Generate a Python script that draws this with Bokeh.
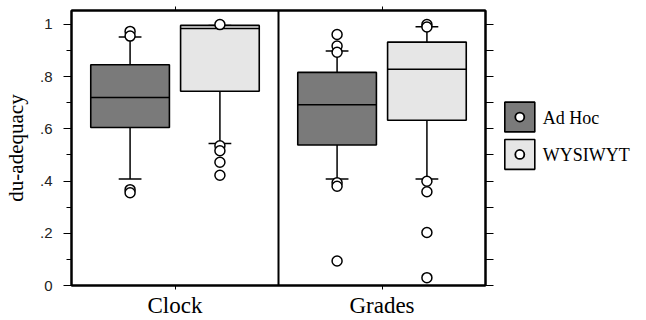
from bokeh.plotting import figure
from bokeh.layouts import row
from bokeh.models import (ColumnDataSource, FactorRange, Range1d, CategoricalAxis, LinearAxis,
                          FixedTicker, Span)
from bokeh.core.properties import value
from bokeh.transform import dodge
from bokeh.embed import file_html
from bokeh.resources import INLINE

# ---------------- data ----------------
categories = ["Clock", "Grades"]
groups = ["Ad Hoc", "WYSIWYT"]

adhoc_lower = [0.408, 0.408]
adhoc_q1 = [0.605, 0.538]
adhoc_median = [0.720, 0.692]
adhoc_q3 = [0.845, 0.816]
adhoc_upper = [0.952, 0.898]
adhoc_outliers = [[0.973, 0.955, 0.367, 0.355],
                  [0.961, 0.917, 0.893, 0.393, 0.380, 0.094]]

wys_lower = [0.544, 0.408]
wys_q1 = [0.744, 0.633]
wys_median = [0.984, 0.828]
wys_q3 = [0.996, 0.932]
wys_upper = [0.996, 0.991]
wys_outliers = [[0.999, 0.535, 0.516, 0.472, 0.422],
                [0.999, 0.990, 0.399, 0.359, 0.203, 0.030]]

y_major = [0.0, 0.2, 0.4, 0.6, 0.8, 1.0]
y_major_labels = ["0", ".2", ".4", ".6", ".8", "1"]
y_minor = [0.1, 0.3, 0.5, 0.7, 0.9]
y_right = [0.0, 0.1, 0.2, 0.3, 0.4, 0.5, 0.6, 0.7, 0.8, 0.9, 1.0]
y_label = "du-adequacy"

# ---------------- styling ----------------
SERIF = "Liberation Serif"
SANS = "Liberation Sans"
colors = {"Ad Hoc": "#7a7a7a", "WYSIWYT": "#e6e6e6"}
offsets = {"Ad Hoc": -0.217, "WYSIWYT": 0.217}
BOX_W = 0.38
CAP_W = 0.11
H = 320
TOP_PAD = 10
BOTTOM_PAD = 33

p = figure(width=495, height=H, title=None,
           x_range=FactorRange(*categories, range_padding=0),
           y_range=Range1d(0, 1.053),
           x_axis_type=None, y_axis_type=None,
           output_backend="svg", toolbar_location=None,
           min_border_left=69, min_border_right=10, min_border_top=TOP_PAD,
           min_border_bottom=BOTTOM_PAD)
p.outline_line_color = "black"
p.outline_line_width = 2
p.background_fill_color = "white"
p.border_fill_color = "white"

left = LinearAxis(ticker=FixedTicker(ticks=y_major, minor_ticks=y_minor),
                  major_label_overrides={v: s for v, s in zip(y_major, y_major_labels)},
                  axis_label=y_label)
left.major_tick_out = 8
left.major_tick_in = 0
left.minor_tick_out = 5
left.minor_tick_in = 0
left.major_label_standoff = 11
left.major_label_text_font = SANS
left.major_label_text_font_size = "15px"
left.major_label_text_color = "#222222"
left.axis_label_text_font = SERIF
left.axis_label_text_font_style = "normal"
left.axis_label_text_font_size = "21px"
left.axis_label_text_color = "black"
left.axis_label_standoff = 9
left.axis_line_width = 2
p.add_layout(left, "left")

right = LinearAxis(ticker=FixedTicker(ticks=y_right))
right.major_tick_out = 8
right.major_tick_in = 0
right.minor_tick_out = 0
right.minor_tick_in = 0
right.major_label_text_font_size = "0px"
right.major_label_text_color = None
right.major_label_standoff = 0
right.axis_line_width = 2
p.add_layout(right, "right")

bottom = CategoricalAxis()
bottom.major_tick_out = 4
bottom.major_tick_in = 0
bottom.major_label_standoff = 3
bottom.major_label_text_font = SERIF
bottom.major_label_text_font_size = "23px"
bottom.major_label_text_color = "black"
bottom.axis_line_width = 2
p.add_layout(bottom, "below")

top = CategoricalAxis()
top.major_tick_out = 4
top.major_tick_in = 0
top.major_label_text_font_size = "0px"
top.major_label_text_color = None
top.major_label_standoff = 0
top.axis_line_width = 2
p.add_layout(top, "above")

for i in range(1, len(categories)):
    p.add_layout(Span(location=i, dimension="height", line_color="black", line_width=2))

series = {
    "Ad Hoc": (adhoc_lower, adhoc_q1, adhoc_median, adhoc_q3, adhoc_upper, adhoc_outliers),
    "WYSIWYT": (wys_lower, wys_q1, wys_median, wys_q3, wys_upper, wys_outliers),
}

for g in groups:
    lo, q1, med, q3, hi, outs = series[g]
    off = offsets[g]
    src = ColumnDataSource(dict(cat=categories, lower=lo, q1=q1, med=med, q3=q3, upper=hi))
    xc = dodge("cat", off, range=p.x_range)
    p.segment(x0=xc, y0="q3", x1=xc, y1="upper", source=src, line_color="black", line_width=1.5)
    p.segment(x0=xc, y0="q1", x1=xc, y1="lower", source=src, line_color="black", line_width=1.5)
    for col in ("upper", "lower"):
        p.segment(x0=dodge("cat", off - CAP_W / 2, range=p.x_range), y0=col,
                  x1=dodge("cat", off + CAP_W / 2, range=p.x_range), y1=col,
                  source=src, line_color="black", line_width=1.5)
    p.vbar(x=xc, width=BOX_W, bottom="q1", top="q3", source=src,
           fill_color=colors[g], line_color="black", line_width=1.6)
    p.segment(x0=dodge("cat", off - BOX_W / 2, range=p.x_range), y0="med",
              x1=dodge("cat", off + BOX_W / 2, range=p.x_range), y1="med",
              source=src, line_color="black", line_width=1.6)
    ocat, oval = [], []
    for c, vals in zip(categories, outs):
        for v in vals:
            ocat.append(c)
            oval.append(v)
    osrc = ColumnDataSource(dict(cat=ocat, val=oval))
    p.scatter(x=xc, y="val", source=osrc, marker="circle", size=10,
              fill_color="white", line_color="black", line_width=1.5)

# ---------------- legend panel (pixel coordinates, y measured from the top of the page) ----------------
LW = 151
leg = figure(width=LW, height=H, title=None,
             x_range=Range1d(0, LW), y_range=Range1d(H - BOTTOM_PAD, TOP_PAD),
             x_axis_type=None, y_axis_type=None, output_backend="svg", toolbar_location=None,
             min_border_left=0, min_border_right=0, min_border_top=TOP_PAD,
             min_border_bottom=BOTTOM_PAD)
leg.outline_line_color = None
leg.border_fill_color = "white"
leg.background_fill_color = "white"

KEY_X = 9.3        # left edge of key box inside legend panel
KEY_SIZE = 30
KEY_TOP = 102.3    # from top of page
KEY_PITCH = 37.7
TEXT_GAP = 8

kl, kr, kt, kb, cx, cy, tx, ty = [], [], [], [], [], [], [], []
for i, g in enumerate(groups):
    top_px = KEY_TOP + i * KEY_PITCH
    kl.append(KEY_X)
    kr.append(KEY_X + KEY_SIZE)
    kt.append(top_px)
    kb.append(top_px + KEY_SIZE)
    cx.append(KEY_X + KEY_SIZE / 2)
    cy.append(top_px + KEY_SIZE / 2)
    tx.append(KEY_X + KEY_SIZE + TEXT_GAP)
    ty.append(top_px + KEY_SIZE / 2 + 1)

leg.quad(left=kl, right=kr, top=kt, bottom=kb, fill_color=[colors[g] for g in groups],
         line_color="black", line_width=1.6)
leg.scatter(x=cx, y=cy, marker="circle", size=9, fill_color="white",
            line_color="black", line_width=1.8)
leg.text(x=tx, y=ty, text=groups, text_font=value(SERIF), text_font_size="18px",
         text_baseline="middle", text_align="left", text_color="black")

layout = row(p, leg, spacing=0)
open("out.html", "w").write(file_html(layout, INLINE))
